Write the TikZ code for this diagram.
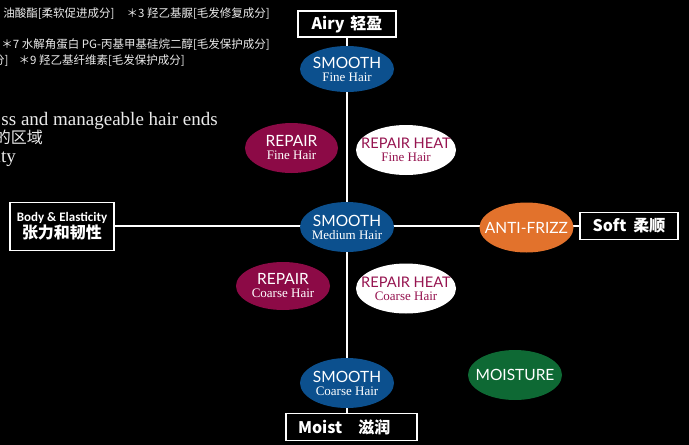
\documentclass[tikz,border=0pt]{standalone}
\usepackage{fontspec}
\setmainfont{Liberation Serif}
\newfontfamily\cjk{Noto Sans CJK SC}
\newfontfamily\lat{Lato}
\newfontfamily\carl{Carlito}
\usetikzlibrary{shapes.geometric}
\definecolor{smoothblue}{RGB}{12,80,142}
\definecolor{repairred}{RGB}{140,10,70}
\definecolor{heattext}{RGB}{150,20,80}
\definecolor{frizz}{RGB}{226,114,44}
\definecolor{moist}{RGB}{14,105,52}
\definecolor{ltxt}{RGB}{235,235,235}
\newcommand{\twol}[3][15.5]{\makebox[0pt]{\lat\fontsize{#1}{13}\selectfont #2}\\\makebox[0pt]{\fontsize{13}{13}\selectfont #3}}
\newcommand{\onel}[1]{\makebox[0pt]{\lat\fontsize{15.5}{13}\selectfont #1}}
\begin{document}
\begin{tikzpicture}[x=1pt,y=-1pt,
  ell/.style={ellipse, minimum width=94pt, minimum height=48pt, inner sep=0pt, align=center, text=white,
     font=\fontsize{13}{13}\selectfont},
  hbox/.style={draw=white, line width=1.2pt, fill=black, text=white, inner sep=0pt,
     font=\cjk\bfseries\fontsize{16}{18}\selectfont},
  axis/.style={draw=white, line width=1.3pt},
  note/.style={text=ltxt, inner sep=0pt, font=\cjk\fontsize{11.5}{13}\selectfont},
  serif/.style={text=ltxt, inner sep=0pt, font=\fontsize{19}{20}\selectfont}
]
\useasboundingbox (0,0) rectangle (689,445);
\fill[black] (0,0) rectangle (689,445);
\clip (0,0) rectangle (689,445);

% text cut off at the left edge, as in the reference
\node[note, anchor=base east] (n1) at (270,17) {油酸酯[柔软促进成分]\hspace{12pt}＊3 羟乙基脲[毛发修复成分]};
\node[note, anchor=base east] (n2) at (270,48) {＊7 水解角蛋白 PG-丙基甲基硅烷二醇[毛发保护成分]};
\node[note, anchor=base east] (n3) at (185,64) {分]\hspace{10pt}＊9 羟乙基纤维素[毛发保护成分]};
\node[serif, anchor=base east] (s1) at (218,125) {ss and manageable hair ends};
\node[note, anchor=base east, font=\cjk\fontsize{16}{17}\selectfont] (s2) at (43,143) {的区域};
\node[serif, anchor=base east] (s3) at (16,162) {ity};

% boxes
\node[hbox, minimum width=98pt, minimum height=26pt] (airy) at (347,24) {Airy\hspace{6pt}轻盈};
\node[hbox, minimum width=104pt, minimum height=48pt, align=center] (body) at (62,226.5)
  {{\carl\bfseries\fontsize{13}{15}\selectfont Body \& Elasticity}\\[-1pt]{\fontsize{16}{17}\selectfont 张力和韧性}};
\node[hbox, minimum width=98pt, minimum height=27pt] (soft) at (629,226) {Soft\hspace{7pt}柔顺};
\node[hbox, minimum width=131pt, minimum height=27pt] (moistbox) at (351.5,427)
  {\hbox to 119pt{\hspace{6pt}Moist\hspace{16pt}滋润\hfill}};

% axes
\draw[axis] (airy.south) -- (airy.south |- moistbox.north);
\draw[axis] (body.east |- soft.west) -- (soft.west);

% ellipses
\node[ell, fill=smoothblue, minimum height=46pt] (sfine) at (347,69) {\twol{SMOOTH}{Fine Hair}};
\node[ell, fill=repairred, minimum width=93pt, minimum height=50pt] (rfine) at (291.5,148) {\twol{REPAIR}{Fine Hair}};
\node[ell, fill=white, text=heattext, minimum width=100pt, minimum height=50pt] (hfine) at (406,150) {\twol[14.6]{REPAIR HEAT}{Fine Hair}};
\node[ell, fill=smoothblue, minimum height=50pt] (smed) at (347,227) {\twol{SMOOTH}{Medium Hair}};
\node[ell, fill=frizz, minimum width=94pt, minimum height=50pt] (frz) at (526.5,227.5) {\onel{ANTI-FRIZZ}};
\node[ell, fill=repairred, minimum height=48pt] (rcoarse) at (283,286) {\twol{REPAIR}{Coarse Hair}};
\node[ell, fill=white, text=heattext, minimum width=100pt, minimum height=50pt] (hcoarse) at (406,288.5) {\twol[14.6]{REPAIR HEAT}{Coarse Hair}};
\node[ell, fill=smoothblue, minimum height=50pt] (scoarse) at (347,383) {\twol{SMOOTH}{Coarse Hair}};
\node[ell, fill=moist, minimum height=50pt] (moi) at (515,375) {\onel{MOISTURE}};
\end{tikzpicture}
\end{document}
